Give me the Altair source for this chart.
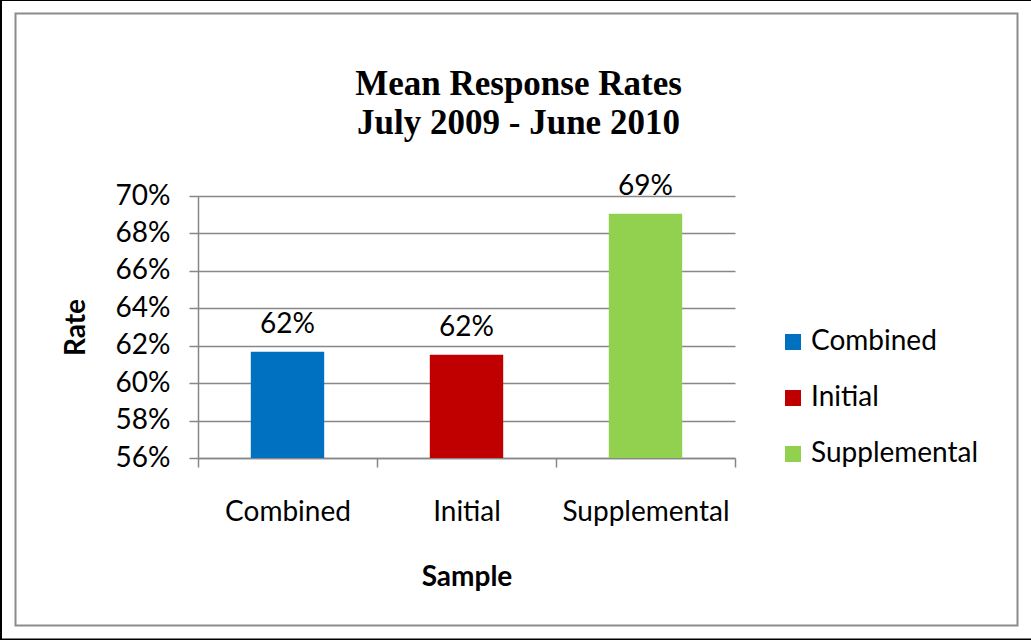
import altair as alt
import pandas as pd

# Mean response rates by sample, July 2009 - June 2010
samples = ["Combined", "Initial", "Supplemental"]
rates = [0.6168, 0.6152, 0.6905]
bar_colors = ["#0070C0", "#C00000", "#92D050"]
rate_ticks = [0.56, 0.58, 0.60, 0.62, 0.64, 0.66, 0.68, 0.70]

df = pd.DataFrame({"Sample": samples, "Rate": rates})

SANS = "Lato"
FS = 28
GRID = "#878787"
PLOT_W, PLOT_H = 537, 262
LEFT, TOP = 198, 196

x_enc = alt.X(
    "Sample:N",
    sort=samples,
    scale=alt.Scale(paddingInner=0, paddingOuter=0),
    axis=alt.Axis(
        title="Sample",
        titleFont=SANS,
        titleFontSize=FS,
        titleFontWeight="bold",
        titleColor="black",
        titleX=PLOT_W / 2,
        titleY=119,
        titleBaseline="middle",
        labelAngle=0,
        labelFont=SANS,
        labelFontSize=FS,
        labelColor="black",
        labelPadding=31,
        labelOverlap=False,
        tickBand="extent",
        tickSize=9,
        tickColor=GRID,
        tickWidth=1.5,
        domainColor=GRID,
        domainWidth=1.5,
        grid=False,
    ),
)

y_enc = alt.Y(
    "Rate:Q",
    scale=alt.Scale(domain=[0.56, 0.70], zero=False, nice=False),
    axis=alt.Axis(
        title="Rate",
        titleFont=SANS,
        titleFontSize=FS,
        titleFontWeight="bold",
        titleColor="black",
        titleAngle=-90,
        titleX=-122,
        titleY=PLOT_H / 2,
        titleBaseline="middle",
        values=rate_ticks,
        tickCount=len(rate_ticks),
        format=".0%",
        labelFont=SANS,
        labelFontSize=FS,
        labelColor="black",
        labelPadding=19,
        labelOverlap=False,
        tickSize=9,
        tickColor=GRID,
        tickWidth=1.5,
        domainColor=GRID,
        domainWidth=1.5,
        grid=True,
        gridColor=GRID,
        gridWidth=1.5,
    ),
)

bars = alt.Chart(df).mark_bar(width=alt.RelativeBandSize(0.41), clip=True).encode(
    x=x_enc,
    y=y_enc,
    color=alt.Color(
        "Sample:N",
        sort=samples,
        scale=alt.Scale(domain=samples, range=bar_colors),
        legend=alt.Legend(
            title=None,
            orient="none",
            legendX=581,
            legendY=132,
            padding=0,
            symbolType="square",
            symbolSize=256,
            symbolStrokeWidth=0,
            labelFont=SANS,
            labelFontSize=FS,
            labelColor="black",
            labelOffset=4,
            labelLimit=300,
            rowPadding=28,
        ),
    ),
)

labels = alt.Chart(df).mark_text(
    font=SANS, fontSize=FS, color="black", baseline="alphabetic", dy=-19
).encode(
    x=alt.X("Sample:N", sort=samples),
    y="Rate:Q",
    text=alt.Text("Rate:Q", format=".0%"),
)

# Chart frame: grey inner border and black outer edge
frame_df = pd.DataFrame({"k": [0]})
inner_frame = alt.Chart(frame_df).mark_rect(
    fill=None, stroke="#8c8c8c", strokeWidth=2
).encode(
    x=alt.value(15.5 - LEFT), x2=alt.value(1017.5 - LEFT),
    y=alt.value(13.5 - TOP), y2=alt.value(625.5 - TOP),
)
outer_frame = alt.Chart(frame_df).mark_rect(
    fill=None, stroke="black", strokeWidth=3
).encode(
    x=alt.value(0.5 - LEFT), x2=alt.value(1040 - LEFT),
    y=alt.value(-0.5 - TOP), y2=alt.value(640 - TOP),
)

chart = alt.layer(outer_frame, inner_frame, bars, labels).properties(
    width=PLOT_W,
    height=PLOT_H,
    padding={"left": LEFT, "top": TOP, "right": 1031 - LEFT - PLOT_W, "bottom": 640 - TOP - PLOT_H},
    autosize=alt.AutoSizeParams(type="none"),
    background="white",
    title=alt.TitleParams(
        text=["Mean Response Rates", "July 2009 - June 2010"],
        font="Liberation Serif",
        fontSize=35,
        fontWeight="bold",
        color="black",
        anchor="middle",
        dx=52,
        dy=143,
        lineHeight=39,
        offset=0,
    ),
).configure_view(stroke=None)

chart.save("out.html", embed_options={"renderer": "svg", "actions": False})
